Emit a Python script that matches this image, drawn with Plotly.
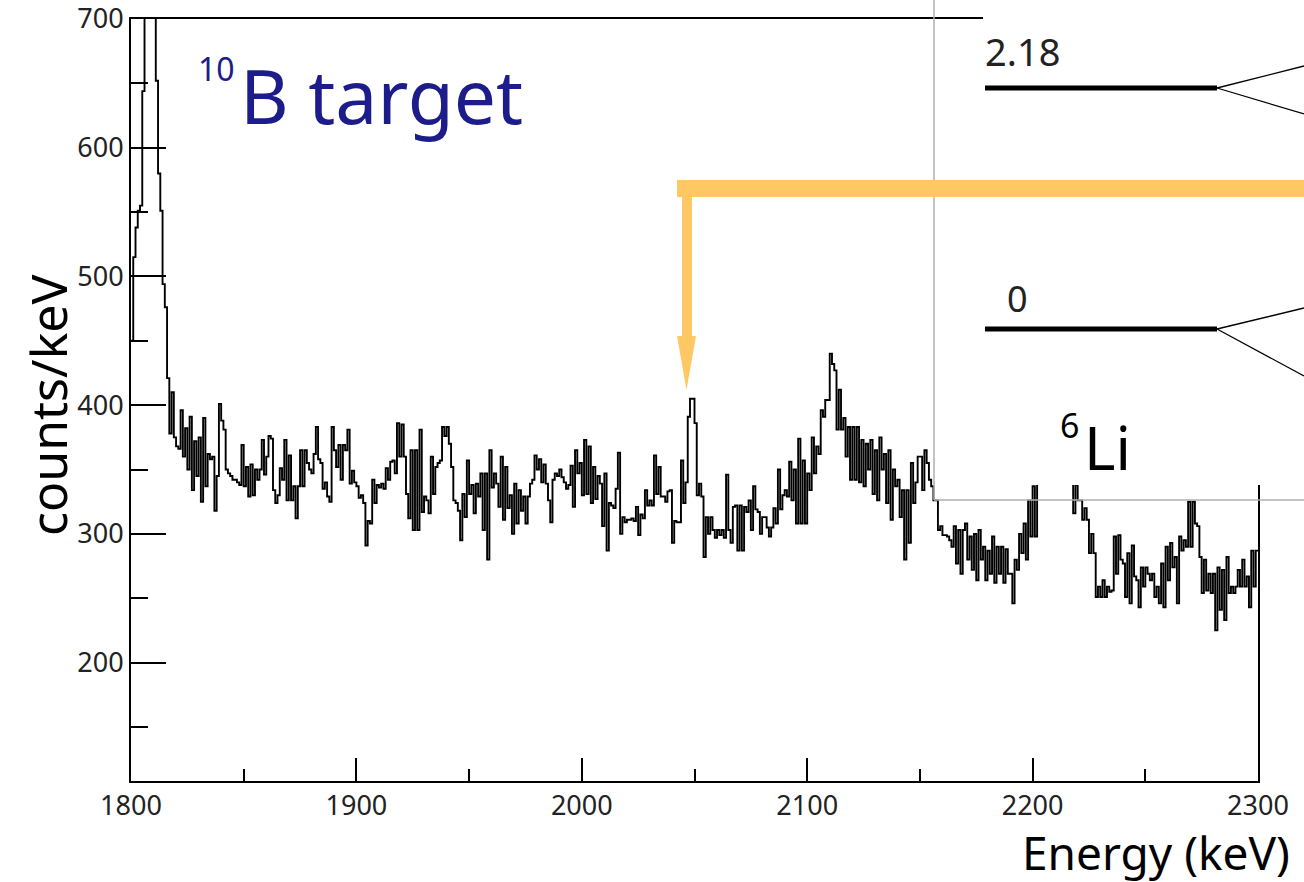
import plotly.graph_objects as go

# ---------------- data ----------------
energy_start_keV = 1800
counts_per_keV = [
    450, 515, 538, 551, 555, 644, 760, 830, 850, 800,
    730, 652, 580, 551, 494, 476, 421, 378, 410, 375,
    368, 366, 396, 360, 382, 350, 391, 334, 372, 345,
    375, 325, 390, 337, 362, 358, 360, 318, 345, 401,
    388, 381, 350, 347, 345, 342, 342, 340, 338, 369,
    337, 352, 329, 354, 330, 350, 342, 350, 373, 346,
    360, 376, 374, 334, 324, 330, 351, 342, 373, 326,
    361, 326, 337, 312, 337, 365, 337, 365, 355, 350,
    347, 362, 383, 358, 355, 335, 340, 329, 325, 383,
    365, 352, 369, 342, 369, 365, 381, 339, 349, 340,
    337, 328, 330, 324, 291, 310, 308, 342, 324, 338,
    336, 339, 335, 351, 342, 356, 357, 347, 386, 360,
    385, 360, 331, 312, 365, 303, 365, 303, 381, 317,
    329, 326, 316, 360, 331, 352, 355, 357, 383, 376,
    383, 370, 352, 326, 324, 318, 295, 331, 313, 357,
    331, 338, 316, 339, 329, 347, 303, 347, 280, 365,
    336, 347, 339, 321, 360, 311, 352, 320, 330, 300,
    339, 308, 334, 318, 329, 308, 329, 339, 342, 361,
    350, 358, 340, 354, 339, 326, 309, 342, 347, 345,
    350, 344, 340, 335, 338, 353, 321, 365, 347, 355,
    330, 373, 331, 368, 324, 352, 327, 345, 339, 306,
    347, 287, 324, 322, 320, 335, 363, 300, 313, 309,
    311, 311, 312, 310, 321, 299, 315, 312, 334, 322,
    326, 322, 361, 331, 352, 329, 329, 325, 333, 334,
    293, 310, 309, 309, 357, 324, 340, 391, 405, 405,
    386, 330, 339, 329, 282, 313, 300, 313, 303, 297,
    303, 299, 303, 297, 346, 303, 293, 321, 322, 287,
    322, 287, 321, 317, 326, 303, 337, 319, 317, 300,
    313, 313, 305, 298, 305, 320, 308, 350, 319, 330,
    334, 329, 356, 326, 350, 308, 374, 308, 357, 308,
    347, 334, 375, 347, 368, 362, 396, 391, 404, 404,
    440, 432, 427, 381, 412, 381, 390, 360, 383, 342,
    383, 342, 383, 340, 373, 337, 370, 350, 373, 331,
    365, 326, 375, 350, 362, 324, 365, 311, 350, 337,
    342, 313, 334, 280, 334, 293, 355, 324, 340, 360,
    360, 334, 365, 355, 342, 337, 326, 326, 303, 306,
    299, 299, 298, 295, 290, 306, 277, 303, 269, 303,
    308, 280, 298, 272, 300, 264, 303, 280, 290, 264,
    287, 269, 298, 262, 290, 269, 290, 262, 288, 269,
    269, 246, 280, 272, 300, 285, 308, 280, 326, 298,
    337, 298, 345, 360, 380, 410, 440, 460, 470, 455,
    430, 415, 400, 380, 360, 350, 345, 340, 316, 338,
    326, 326, 311, 320, 311, 285, 300, 285, 251, 259,
    251, 264, 251, 259, 255, 256, 298, 269, 299, 280,
    277, 251, 285, 246, 291, 267, 264, 243, 274, 259,
    274, 269, 264, 269, 251, 259, 246, 277, 243, 290,
    264, 293, 274, 282, 246, 298, 287, 295, 290, 325,
    290, 325, 308, 306, 282, 254, 280, 256, 269, 254,
    269, 225, 274, 241, 272, 233, 282, 254, 259, 254,
    259, 272, 259, 280, 259, 267, 243, 287, 259, 287,
]
x_tick_values = [1800, 1900, 2000, 2100, 2200, 2300]
y_tick_values = [200, 300, 400, 500, 600, 700]
level_labels = ["2.18", "0"]

# histogram edges (1 keV bins)
edges = [energy_start_keV + i for i in range(len(counts_per_keV) + 1)]
step_y = counts_per_keV + [counts_per_keV[-1]]

W, H = 1304, 882
L, R, T, B = 131, 46, 19, 101
PW, PH = W - L - R, H - T - B


def X(px):
    return (px - L) / PW


def Y(py):
    return (H - B - py) / PH


fig = go.Figure()
fig.add_trace(go.Scatter(
    x=edges, y=step_y, mode="lines", line=dict(color="black", width=1.9, shape="hv"),
    hoverinfo="skip", showlegend=False,
))

tickfont = dict(family="Noto Sans", size=27, color="#222")
fig.update_xaxes(
    range=[1800, 2300], tickvals=x_tick_values, ticks="inside", ticklen=23, tickwidth=2,
    tickcolor="black", showline=True, linecolor="black", linewidth=2, mirror=True,
    showgrid=False, zeroline=False, tickfont=tickfont, ticklabeloverflow="allow",
    minor=dict(dtick=50, tick0=1800, ticks="inside", ticklen=12, tickwidth=2, tickcolor="black", showgrid=False),
)
fig.update_yaxes(
    range=[108, 700], tickvals=y_tick_values, ticks="inside", ticklen=35, tickwidth=2,
    tickcolor="black", showline=True, linecolor="black", linewidth=2, mirror=True,
    showgrid=False, zeroline=False, tickfont=tickfont, ticklabeloverflow="allow",
    minor=dict(dtick=50, tick0=100, ticks="inside", ticklen=17, tickwidth=2, tickcolor="black", showgrid=False),
)

shapes = []
# white inset background covering the upper-right corner
shapes.append(dict(type="rect", xref="paper", yref="paper", x0=X(983), x1=X(1310), y0=Y(485), y1=Y(-5),
                   fillcolor="white", line=dict(width=0), layer="above"))
# gray frame lines of the inset
shapes.append(dict(type="line", xref="paper", yref="paper", x0=X(934), x1=X(934), y0=Y(0), y1=Y(500),
                   line=dict(color="#b0b0b0", width=1.5), layer="above"))
shapes.append(dict(type="line", xref="paper", yref="paper", x0=X(934), x1=X(1304), y0=Y(500), y1=Y(500),
                   line=dict(color="#b0b0b0", width=1.5), layer="above"))
# level lines
for ly, up, dn in [(88, 66, 114), (329, 308, 376)]:
    shapes.append(dict(type="line", xref="paper", yref="paper", x0=X(985), x1=X(1217), y0=Y(ly), y1=Y(ly),
                       line=dict(color="black", width=5), layer="above"))
    for ey in (up, dn):
        shapes.append(dict(type="line", xref="paper", yref="paper", x0=X(1217), x1=X(1304), y0=Y(ly), y1=Y(ey),
                           line=dict(color="black", width=1.3), layer="above"))
# orange arrow
orange = "#FFC864"
shapes.append(dict(type="rect", xref="paper", yref="paper", x0=X(677), x1=X(1310), y0=Y(197), y1=Y(180),
                   fillcolor=orange, line=dict(width=0), layer="above"))
shapes.append(dict(type="rect", xref="paper", yref="paper", x0=X(682), x1=X(692), y0=Y(337), y1=Y(190),
                   fillcolor=orange, line=dict(width=0), layer="above"))
shapes.append(dict(type="path", xref="paper", yref="paper",
                   path=f"M {X(677)},{Y(336)} L {X(696)},{Y(336)} L {X(686.5)},{Y(390)} Z",
                   fillcolor=orange, line=dict(width=0), layer="above"))

ann = []
ann.append(dict(text="counts/keV", x=X(48), y=Y(405), xref="paper", yref="paper", showarrow=False,
                textangle=-90, font=dict(family="Noto Sans", size=50, color="black"),
                xanchor="center", yanchor="middle"))
ann.append(dict(text="Energy (keV)", x=X(1292), y=Y(852), xref="paper", yref="paper", showarrow=False,
                font=dict(family="Noto Sans", size=46, color="black"), xanchor="right", yanchor="middle"))
navy = "#1c1c8a"
ann.append(dict(text="10", x=X(237), y=Y(68), xref="paper", yref="paper", showarrow=False,
                font=dict(family="Noto Sans", size=32, color=navy), xanchor="right", yanchor="middle"))
ann.append(dict(text="B target", x=X(238), y=Y(95), xref="paper", yref="paper", showarrow=False,
                font=dict(family="Noto Sans", size=75, color=navy), xanchor="left", yanchor="middle"))
ann.append(dict(text=level_labels[0], x=X(983), y=Y(51), xref="paper", yref="paper", showarrow=False,
                font=dict(family="Noto Sans", size=38, color="#222"), xanchor="left", yanchor="middle"))
ann.append(dict(text=level_labels[1], x=X(1005), y=Y(298), xref="paper", yref="paper", showarrow=False,
                font=dict(family="Noto Sans", size=36, color="#222"), xanchor="left", yanchor="middle"))
ann.append(dict(text="6", x=X(1058), y=Y(425), xref="paper", yref="paper", showarrow=False,
                font=dict(family="Noto Sans", size=34, color="black"), xanchor="left", yanchor="middle"))
ann.append(dict(text="Li", x=X(1082), y=Y(447), xref="paper", yref="paper", showarrow=False,
                font=dict(family="Noto Sans", size=60, color="black"), xanchor="left", yanchor="middle"))

fig.update_layout(
    width=W, height=H, margin=dict(l=L, r=R, t=T, b=B, autoexpand=False),
    paper_bgcolor="white", plot_bgcolor="white", showlegend=False,
    shapes=shapes, annotations=ann,
)

fig.write_html("out.html")
